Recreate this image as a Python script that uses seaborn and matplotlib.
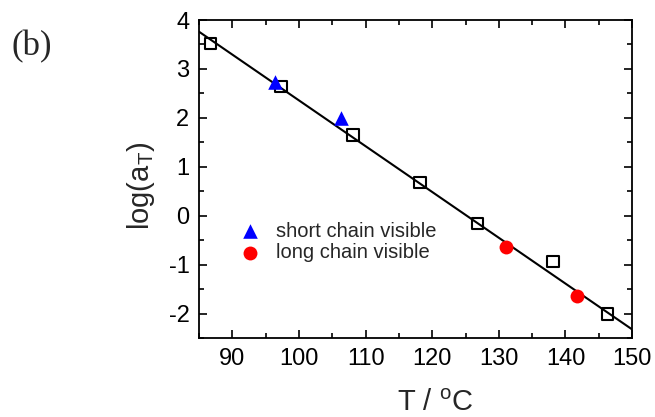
import matplotlib
matplotlib.use("Agg")
import matplotlib.pyplot as plt
import seaborn as sns
import pandas as pd
from matplotlib.ticker import MultipleLocator

sns.set_theme(style="ticks")
plt.rcParams['font.family'] = ['Liberation Sans', 'DejaVu Sans']
plt.rcParams['mathtext.fontset'] = 'custom'
plt.rcParams['mathtext.rm'] = 'Liberation Sans'
plt.rcParams['axes.unicode_minus'] = False

# data
sq_T = [86.7, 97.3, 108.1, 118.15, 126.8, 138.1, 146.3]
sq_log = [3.52, 2.64, 1.65, 0.68, -0.16, -0.93, -2.0]
short_T = [96.4, 106.3]
short_log = [2.74, 1.99]
long_T = [131.1, 141.7]
long_log = [-0.64, -1.64]
fit_T = [85, 150]
fit_log = [3.76, -2.32]

fig = plt.figure(figsize=(6.55, 4.17), dpi=100)
ax = fig.add_axes([0.304, 0.189, 0.661, 0.763])

sns.lineplot(x=fit_T, y=fit_log, ax=ax, color='black', linewidth=1.5, zorder=2)
sns.scatterplot(x=sq_T, y=sq_log, ax=ax, marker='s', s=70, facecolor='none',
                edgecolor='black', linewidth=1.5, zorder=3)
sns.scatterplot(x=short_T, y=short_log, ax=ax, marker='^', s=110, color='blue',
                edgecolor='blue', linewidth=0, zorder=3, label='short chain visible')
sns.scatterplot(x=long_T, y=long_log, ax=ax, marker='o', s=100, color='red',
                edgecolor='red', linewidth=0, zorder=3, label='long chain visible')

ax.set_xlim(85, 150)
ax.set_ylim(-2.5, 4)
ax.xaxis.set_major_locator(MultipleLocator(10))
ax.xaxis.set_minor_locator(MultipleLocator(5))
ax.yaxis.set_major_locator(MultipleLocator(1))
ax.yaxis.set_minor_locator(MultipleLocator(0.5))
ax.tick_params(which='both', direction='in', top=True, right=True, width=1.2, colors='black')
ax.tick_params(which='major', length=6, labelsize=17, pad=7)
ax.tick_params(which='minor', length=3.5)
ax.set_xticks([90, 100, 110, 120, 130, 140, 150])
for sp in ax.spines.values():
    sp.set_linewidth(1.3)
    sp.set_color('black')

ax.set_xlabel('T / $^\\mathregular{o}$C', fontsize=21)
ax.xaxis.set_label_coords(0.545, -0.16)
ax.set_ylabel('log(a$_\\mathregular{T}$)', fontsize=21)
ax.yaxis.set_label_coords(-0.097, 0.478)

leg = ax.legend(loc='center left', bbox_to_anchor=(0.075, 0.303), frameon=False,
                fontsize=14.5, handlelength=1.0, handletextpad=0.8,
                labelspacing=0.1, borderaxespad=0)

fig.text(0.018, 0.868, '(b)', fontsize=25, family=['Liberation Serif'])

fig.savefig('out.png', dpi=100)
